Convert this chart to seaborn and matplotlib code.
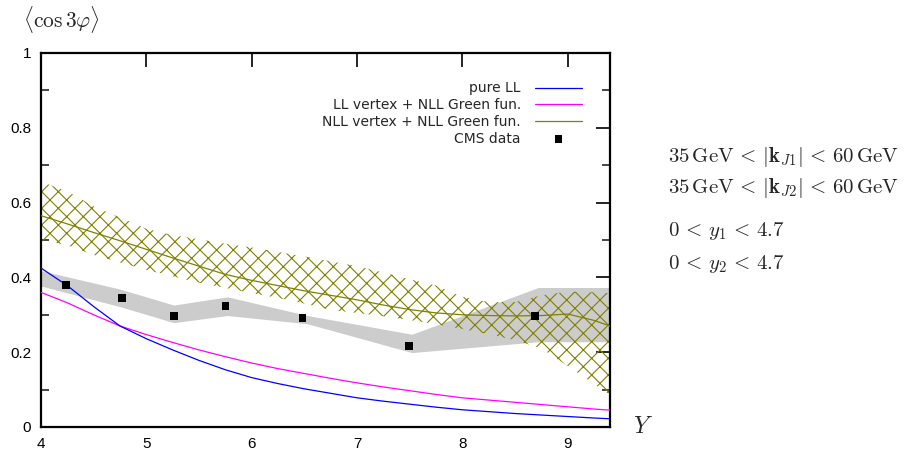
import numpy as np
import pandas as pd
import matplotlib
matplotlib.use("Agg")
import matplotlib.pyplot as plt
import seaborn as sns
from matplotlib.ticker import MultipleLocator

# ---------------- data ----------------
Y_grid = [4.0, 4.25, 4.5, 4.75, 5.0, 5.25, 5.5, 5.75, 6.0, 6.25, 6.5, 6.75,
          7.0, 7.25, 7.5, 7.75, 8.0, 8.25, 8.5, 8.75, 9.0, 9.25, 9.4]
pure_LL = [0.425, 0.378, 0.322, 0.270, 0.236, 0.206, 0.178, 0.153, 0.132, 0.116,
           0.102, 0.090, 0.078, 0.069, 0.061, 0.053, 0.046, 0.041, 0.036, 0.032,
           0.028, 0.024, 0.022]
LL_NLL = [0.360, 0.332, 0.300, 0.270, 0.247, 0.226, 0.206, 0.188, 0.171, 0.156,
          0.143, 0.130, 0.118, 0.107, 0.097, 0.087, 0.078, 0.072, 0.066, 0.060,
          0.054, 0.048, 0.045]
NLL_NLL = [0.565, 0.543, 0.520, 0.498, 0.475, 0.452, 0.430, 0.408, 0.392, 0.378,
           0.364, 0.352, 0.340, 0.326, 0.314, 0.305, 0.300, 0.298, 0.297, 0.298,
           0.302, 0.285, 0.270]
NLL_NLL_hi = [0.656, 0.630, 0.590, 0.560, 0.530, 0.513, 0.502, 0.490, 0.480, 0.468,
              0.456, 0.443, 0.430, 0.413, 0.395, 0.378, 0.348, 0.334, 0.334, 0.352,
              0.362, 0.360, 0.358]
NLL_NLL_lo = [0.500, 0.486, 0.460, 0.440, 0.420, 0.403, 0.386, 0.372, 0.358, 0.345,
              0.330, 0.313, 0.305, 0.296, 0.286, 0.275, 0.262, 0.248, 0.232, 0.210,
              0.163, 0.115, 0.086]

cms_Y = [4.24, 4.77, 5.26, 5.75, 6.48, 7.49, 8.69]
cms_val = [0.380, 0.345, 0.297, 0.324, 0.291, 0.217, 0.297]

band_Y = [4.0, 4.76, 5.26, 5.77, 6.53, 7.52, 8.72, 9.4]
band_hi = [0.418, 0.368, 0.326, 0.348, 0.298, 0.248, 0.373, 0.373]
band_lo = [0.377, 0.321, 0.279, 0.298, 0.276, 0.199, 0.228, 0.228]

labels = ["pure LL", "LL vertex + NLL Green fun.", "NLL vertex + NLL Green fun.", "CMS data"]
colors = ["#0000ff", "#ff00ff", "#808000"]

y_ticks = [0, 0.2, 0.4, 0.6, 0.8, 1]
y_ticklabels = ["0", "0.2", "0.4", "0.6", "0.8", "1"]
x_ticks = [4, 5, 6, 7, 8, 9]
x_ticklabels = ["4", "5", "6", "7", "8", "9"]

cut_lines = [r"$35\,\mathrm{GeV}\, <\, |\mathbf{k}_{J1}|\, <\, 60\,\mathrm{GeV}$",
             r"$35\,\mathrm{GeV}\, <\, |\mathbf{k}_{J2}|\, <\, 60\,\mathrm{GeV}$",
             r"$0\, <\, y_1\, <\, 4.7$",
             r"$0\, <\, y_2\, <\, 4.7$"]

# ---------------- style ----------------
sns.set_style("white")
plt.rcParams["font.family"] = ["Liberation Sans", "DejaVu Sans"]
plt.rcParams["mathtext.fontset"] = "cm"
plt.rcParams["hatch.linewidth"] = 0.8

fig = plt.figure(figsize=(9.08, 4.5), dpi=100)
ax = fig.add_axes([41 / 908, 1 - 427 / 450, (610 - 41) / 908, (427 - 53) / 450])

# bands
ax.fill_between(band_Y, band_lo, band_hi, color="#cccccc", linewidth=0, zorder=1)
ax.fill_between(Y_grid, NLL_NLL_lo, NLL_NLL_hi, facecolor="none", edgecolor=colors[2],
                hatch="xx", linewidth=0, zorder=2)

df = pd.DataFrame({"Y": Y_grid, "a": pure_LL, "b": LL_NLL, "c": NLL_NLL})
sns.lineplot(data=df, x="Y", y="a", color=colors[0], linewidth=0.9, ax=ax,
             label=labels[0], zorder=4)
sns.lineplot(data=df, x="Y", y="b", color=colors[1], linewidth=0.9, ax=ax,
             label=labels[1], zorder=3)
sns.lineplot(data=df, x="Y", y="c", color=colors[2], linewidth=0.9, ax=ax,
             label=labels[2], zorder=3)
sns.scatterplot(x=cms_Y, y=cms_val, marker="s", s=30, color="black", edgecolor="none",
                ax=ax, label=labels[3], zorder=5)

ax.set_xlim(4, 9.4)
ax.set_ylim(0, 1)
ax.set_xlabel("")
ax.set_ylabel("")
ax.set_xticks(x_ticks)
ax.set_xticklabels(x_ticklabels)
ax.set_yticks(y_ticks)
ax.set_yticklabels(y_ticklabels)
ax.yaxis.set_minor_locator(MultipleLocator(0.1))
ax.tick_params(axis="both", which="major", direction="in", length=10, width=1.2,
               top=True, right=True, labelsize=11, pad=7, colors="black")
ax.tick_params(axis="y", which="minor", direction="in", length=5.5, width=1.2,
               left=True, right=True)
for s in ax.spines.values():
    s.set_linewidth(1.6)
    s.set_color("black")

leg = ax.legend(loc="upper right", bbox_to_anchor=(0.968, 0.95), frameon=False,
                markerfirst=False, handlelength=3.4, handletextpad=1.0,
                labelspacing=0.2, borderpad=0.2, prop={"family": "DejaVu Sans", "size": 10})
for t in leg.get_texts():
    t.set_ha("right")

fig.text(23 / 908, 1 - 28 / 450, r"$\langle\cos 3\varphi\rangle$", fontsize=15.5,
         ha="left", va="baseline")
fig.text(643 / 908, 1 - 427 / 450, r"$Y$", fontsize=17, ha="center", va="center")

baselines = [161.7, 193.3, 236.3, 268.7]
for line, yy in zip(cut_lines, baselines):
    fig.text(668 / 908, 1 - yy / 450, line, fontsize=15, ha="left", va="baseline")

fig.savefig("out.png", dpi=100)
